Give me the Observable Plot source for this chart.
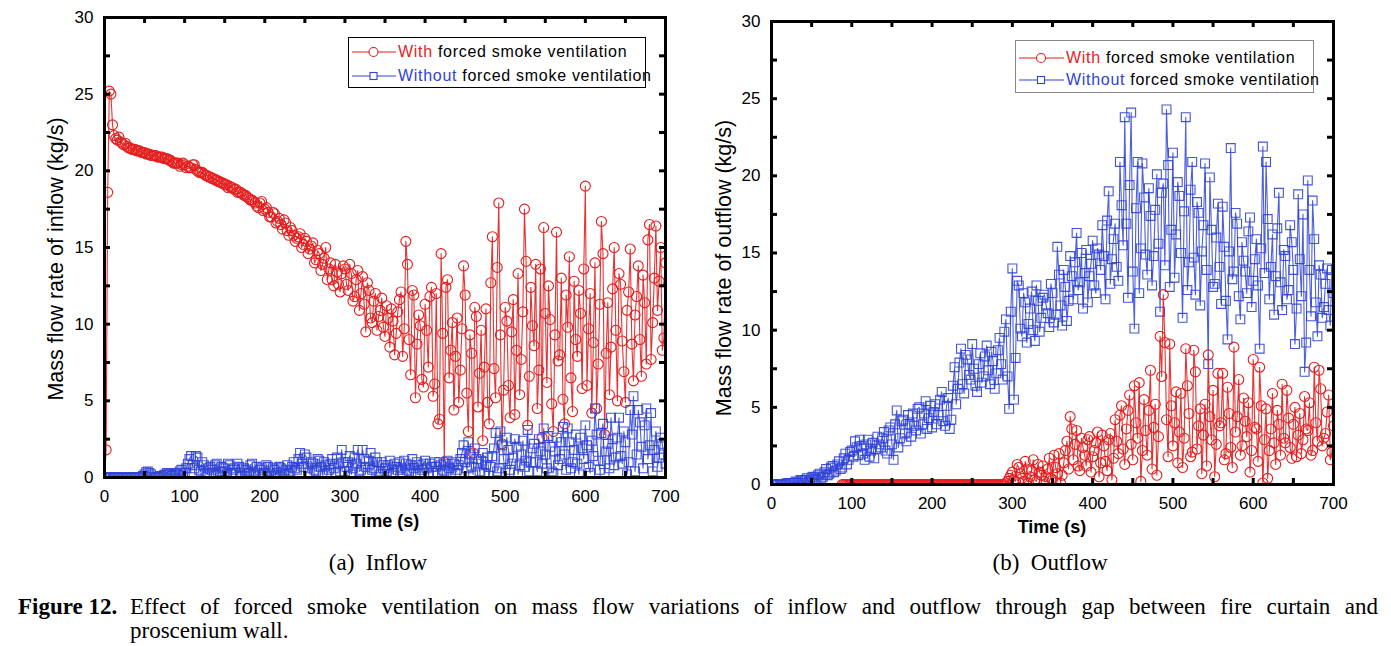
<!DOCTYPE html>
<html>
<head>
<meta charset="utf-8">
<script src="https://cdn.jsdelivr.net/npm/d3@7"></script>
<script src="https://cdn.jsdelivr.net/npm/@observablehq/plot@0.6"></script>
<style>
  body { margin: 0; background: #fff; }
  #root { position: relative; width: 1391px; height: 646px; overflow: hidden; background: #fff;
          font-family: "Liberation Sans", Arial, sans-serif; color: #000; }
  .abs { position: absolute; white-space: nowrap; line-height: 1; }
  .ytitle { font-size: 21.5px; transform: translate(-50%, -50%) rotate(-90deg); }
  .xtitle { font-size: 18px; font-weight: bold; transform: translate(-50%, -50%); }
  .sub { font-family: "Liberation Serif", "Times New Roman", serif; font-size: 23px; transform: translate(-50%, -50%); white-space: pre; }
  .legend { position: absolute; background: #fff; }
  .legrow { position: absolute; left: 0; display: flex; align-items: center; font-size: 16px; letter-spacing: 0.7px; white-space: nowrap; }
  .legrow svg { display: block; margin-right: 2px; }
  .cap { position: absolute; font-family: "Liberation Serif", "Times New Roman", serif; font-size: 23px; line-height: 1; }
</style>
</head>
<body>
<div id="root"></div>
<script>
// ---------------- data ----------------
// Samples every 2 s, stored as two interleaved lists:
// "A" lists at t = 0, 4, 8, ..., 700 s and "B" lists at t = 2, 6, ..., 698 s.
const timesA = d3.range(0, 701, 4);
const timesB = d3.range(2, 700, 4);

// (a) Inflow, with forced smoke ventilation (kg/s)
const inflowWithA = [
  0, 18.6, 25.0, 22.3, 22.0, 21.9, 21.7, 21.6, 21.5, 21.4,
  21.3, 21.3, 21.2, 21.1, 21.1, 21.0, 21.0, 20.9, 20.9, 20.8,
  20.7, 20.6, 20.5, 20.5, 20.4, 20.4, 20.3, 20.2, 20.4, 20.0,
  19.9, 19.8, 19.7, 19.6, 19.5, 19.4, 19.3, 19.2, 19.1, 19.0,
  18.9, 18.8, 18.6, 18.5, 18.4, 18.2, 18.1, 17.9, 17.6, 18.0,
  17.5, 17.3, 17.0, 17.2, 16.7, 16.5, 16.8, 16.1, 16.3, 15.8,
  15.6, 15.9, 15.2, 15.4, 14.9, 15.3, 14.2, 14.6, 13.9, 15.0,
  13.6, 12.9, 13.9, 12.6, 13.3, 13.6, 12.2, 13.3, 11.8, 13.5,
  12.0, 11.3, 12.7, 10.4, 11.5, 9.6, 10.9, 9.8, 11.2, 8.5,
  10.2, 9.4, 11.6, 7.9, 15.4, 9.0, 12.2, 5.2, 10.6, 6.4,
  11.3, 7.2, 12.4, 6.1, 3.5, 14.6, 1.0, 12.9, 8.3, 4.4,
  10.4, 7.0, 13.8, 5.5, 9.3, 1.6, 10.5, 6.8, 2.4, 11.0,
  3.5, 15.7, 5.2, 17.9, 2.2, 11.1, 6.0, 9.5, 4.1, 13.3,
  7.7, 17.5, 3.4, 12.4, 8.6, 4.5, 13.6, 16.3, 6.2, 10.3,
  3.0, 16.0, 8.0, 5.1, 11.9, 14.4, 4.3, 9.0, 12.2, 5.8,
  19.0, 9.7, 4.2, 14.0, 7.4, 16.7, 2.8, 11.4, 8.5, 15.0,
  5.0, 12.6, 6.9, 10.9, 14.9, 6.3, 11.8, 9.0, 13.2, 7.4,
  16.5, 10.1, 16.4, 12.8, 8.3, 14.0
];
const inflowWithB = [
  1.8, 25.2, 23.0, 22.1, 22.2, 21.8, 21.8, 21.5, 21.4, 21.4,
  21.3, 21.2, 21.2, 21.1, 21.0, 21.0, 20.9, 20.9, 20.8, 20.8,
  20.7, 20.5, 20.5, 20.3, 20.5, 20.2, 20.2, 20.4, 20.1, 19.9,
  19.9, 19.7, 19.6, 19.5, 19.4, 19.3, 19.2, 19.1, 18.9, 18.9,
  18.8, 18.6, 18.6, 18.4, 18.3, 18.1, 18.0, 17.7, 17.9, 17.4,
  17.6, 17.0, 17.3, 16.6, 16.9, 16.2, 16.6, 15.8, 16.1, 15.4,
  15.7, 15.0, 15.6, 14.6, 15.1, 14.0, 14.8, 13.5, 14.3, 12.9,
  14.0, 12.5, 13.4, 12.1, 13.8, 12.6, 13.9, 11.5, 12.9, 10.9,
  13.1, 9.5, 12.2, 10.1, 12.0, 10.5, 11.7, 9.2, 10.4, 11.0,
  8.0, 10.8, 12.1, 9.7, 13.9, 6.7, 11.9, 8.7, 9.9, 5.9,
  9.6, 11.8, 5.3, 12.0, 3.8, 9.4, 12.4, 6.5, 10.1, 7.9,
  4.9, 9.7, 11.9, 3.0, 8.1, 11.1, 4.6, 9.6, 7.2, 4.9,
  12.7, 7.1, 13.7, 9.3, 5.7, 10.2, 3.9, 11.6, 8.3, 5.4,
  10.8, 14.1, 6.6, 9.9, 13.9, 7.0, 2.6, 10.7, 12.5, 4.8,
  9.3, 7.6, 13.0, 3.5, 9.8, 6.5, 12.8, 7.9, 10.7, 13.6,
  6.0, 12.0, 8.8, 4.5, 11.3, 14.6, 8.1, 5.4, 12.3, 9.6,
  13.3, 8.9, 4.9, 12.1, 8.7, 10.6, 13.8, 6.6, 11.4, 15.5,
  7.7, 13.0, 10.9, 15.0, 9.1
];

// (a) Inflow, without forced smoke ventilation (kg/s)
const inflowWithoutA = [
  0, 0, 0, 0, 0, 0, 0, 0, 0, 0,
  0, 0, 0.1, 0.35, 0.3, 0.05, 0, 0, 0.05, 0.2,
  0.25, 0.1, 0.3, 0.2, 0.5, 0.3, 0.9, 1.4, 0.6, 1.3,
  0.4, 0.8, 0.2, 0.7, 0.3, 0.9, 0.4, 0.6, 0.2, 0.8,
  0.5, 0.3, 0.7, 0.1, 0.5, 0.3, 0.9, 0.4, 0.2, 0.6,
  0.3, 0.7, 0.1, 0.5, 0.3, 0.6, 0.2, 0.8, 0.4, 1.0,
  0.5, 1.6, 0.7, 1.3, 0.3, 0.9, 0.4, 1.1, 0.2, 0.8,
  0.5, 1.2, 0.3, 0.9, 1.8, 0.4, 1.0, 0.2, 1.3, 1.8,
  0.5, 1.2, 0.3, 1.6, 0.6, 1.0, 0.2, 0.8, 0.4, 1.1,
  0.3, 0.7, 1.0, 0.2, 0.9, 0.4, 1.2, 0.3, 0.8, 0.5,
  1.1, 0.2, 0.7, 1.0, 0.3, 0.8, 0.4, 1.1, 0.2, 0.9,
  0.5, 1.2, 2.1, 0.6, 1.5, 0.2, 1.2, 0.4, 1.6, 0.8,
  0.1, 1.4, 2.9, 0.6, 2.1, 0.3, 1.8, 0.9, 2.5, 0.2,
  1.5, 0.7, 3.1, 1.0, 2.2, 0.4, 1.7, 3.2, 0.6, 2.0,
  0.3, 2.6, 1.2, 3.3, 0.5, 2.3, 1.0, 2.8, 0.2, 1.9,
  3.4, 0.7, 2.4, 4.5, 1.1, 2.9, 0.3, 2.2, 3.9, 0.8,
  2.6, 1.4, 3.0, 0.2, 4.4, 5.3, 1.5, 3.6, 0.6, 4.5,
  2.1, 0.4, 3.0, 1.3, 2.2, 0.9
];
const inflowWithoutB = [
  0, 0, 0, 0, 0, 0, 0, 0, 0, 0,
  0, 0, 0.2, 0.4, 0.2, 0, 0, 0.1, 0.15, 0.3,
  0.2, 0.15, 0.25, 0.4, 0.2, 0.6, 1.2, 0.8, 1.4, 0.5,
  1.0, 0.3, 0.6, 0.5, 0.8, 0.2, 0.7, 0.4, 0.9, 0.3,
  0.6, 0.9, 0.2, 0.6, 0.4, 0.8, 0.2, 0.7, 0.5, 0.3,
  0.8, 0.4, 0.6, 0.2, 0.7, 0.4, 0.5, 0.3, 0.7, 0.6,
  1.2, 0.9, 1.5, 0.6, 1.0, 0.5, 1.2, 0.7, 1.0, 0.3,
  0.9, 0.6, 1.3, 0.4, 1.0, 0.7, 1.4, 0.6, 0.9, 0.4,
  1.8, 0.7, 1.1, 0.5, 1.3, 0.4, 1.0, 0.6, 0.8, 0.2,
  0.9, 0.5, 0.6, 1.1, 0.5, 0.8, 0.6, 1.0, 0.3, 0.9,
  0.6, 0.9, 0.3, 0.7, 1.0, 0.5, 0.9, 0.6, 1.0, 0.3,
  0.8, 1.6, 1.0, 2.3, 0.7, 1.9, 0.9, 1.1, 0.3, 1.3,
  0.7, 1.9, 0.4, 3.0, 1.2, 2.6, 0.5, 1.3, 2.0, 0.8,
  2.4, 1.1, 0.4, 1.9, 1.0, 2.5, 0.9, 1.5, 2.7, 0.4,
  1.7, 0.8, 2.3, 1.5, 3.2, 0.6, 1.8, 0.9, 2.6, 1.2,
  2.1, 0.3, 1.4, 2.8, 0.5, 3.5, 1.7, 0.6, 2.5, 1.3,
  3.9, 0.9, 2.3, 1.0, 2.8, 0.4, 4.4, 2.0, 3.4, 1.2,
  4.2, 1.8, 0.7, 2.6, 1.5
];

// (b) Outflow, with forced smoke ventilation (kg/s); hidden under the other series before ~90 s
const outflowWithA = [
  null, null, null, null, null, null, null, null, null, null,
  null, null, null, null, null, null, null, null, null, null,
  null, null, 0, 0, 0, 0, 0, 0, 0, 0,
  0, 0, 0, 0, 0, 0, 0, 0, 0, 0,
  0, 0, 0, 0, 0, 0, 0, 0, 0, 0,
  0, 0, 0, 0, 0, 0, 0, 0, 0, 0,
  0, 0, 0, 0, 0, 0, 0, 0, 0, 0,
  0, 0, 0, 0.1, 0.4, 0.8, 0.2, 1.1, 0.4, 1.5,
  0.1, 0.9, 0.3, 1.3, 0.6, 0.2, 1.0, 0.4, 1.9, 0.7,
  0.1, 1.4, 2.8, 4.4, 1.6, 3.5, 0.9, 2.4, 1.2, 3.1,
  1.8, 2.7, 0.5, 3.2, 1.5, 2.9, 0.3, 4.2, 2.0, 5.1,
  1.3, 4.8, 2.6, 6.4, 3.0, 0.2, 5.5, 1.9, 7.4, 3.7,
  0.6, 9.6, 12.3, 4.2, 9.1, 2.5, 6.0, 3.4, 1.1, 8.8,
  4.6, 2.1, 7.3, 3.8, 0.7, 5.2, 8.4, 2.9, 0.5, 7.2,
  4.0, 1.6, 6.3, 2.4, 8.9, 4.4, 1.9, 5.6, 3.1, 0.8,
  8.1, 3.6, 7.6, 0.1, 4.9, 2.2, 5.9, 1.3, 3.9, 6.5,
  2.7, 4.3, 1.7, 5.0, 3.2, 2.0, 5.7, 3.5, 1.9, 7.6,
  2.8, 6.2, 3.0, 4.7, 1.6, 3.8
];
const outflowWithB = [
  null, null, null, null, null, null, null, null, null, null,
  null, null, null, null, null, null, null, null, null, null,
  null, null, 0, 0, 0, 0, 0, 0, 0, 0,
  0, 0, 0, 0, 0, 0, 0, 0, 0, 0,
  0, 0, 0, 0, 0, 0, 0, 0, 0, 0,
  0, 0, 0, 0, 0, 0, 0, 0, 0, 0,
  0, 0, 0, 0, 0, 0, 0, 0, 0, 0,
  0, 0, 0, 0.2, 0.6, 0.3, 1.3, 0.7, 0.2, 1.0,
  0.5, 1.6, 0.2, 0.8, 1.2, 0.5, 1.7, 0.3, 1.1, 2.0,
  0.6, 2.2, 1.0, 3.6, 2.6, 1.2, 3.0, 1.9, 2.9, 0.8,
  2.2, 3.4, 1.4, 2.5, 0.9, 3.3, 1.7, 2.8, 4.5, 2.3,
  3.6, 5.8, 1.6, 4.0, 6.6, 2.2, 3.5, 4.8, 1.0, 5.2,
  3.1, 7.0, 9.2, 1.8, 5.1, 4.0, 1.4, 5.9, 3.0, 6.4,
  1.8, 8.7, 2.3, 4.9, 3.2, 1.2, 4.4, 6.1, 2.6, 3.8,
  7.2, 2.0, 4.6, 1.1, 3.4, 6.8, 2.5, 4.1, 5.3, 2.2,
  3.7, 1.5, 5.1, 2.9, 0.4, 3.6, 2.7, 4.8, 1.9, 3.0,
  6.1, 2.4, 3.9, 1.8, 4.6, 2.9, 3.6, 5.3, 2.2, 4.0,
  7.4, 2.5, 3.3, 5.8, 2.1
];

// (b) Outflow, without forced smoke ventilation (kg/s)
const outflowWithoutA = [
  0, 0, 0, 0, 0, 0.1, 0.1, 0.1, 0.15, 0.3,
  0.1, 0.4, 0.2, 0.5, 0.3, 0.7, 0.5, 1.0, 0.7, 1.2,
  0.9, 1.5, 1.1, 2.0, 1.6, 2.2, 2.8, 1.9, 2.5, 1.6,
  2.9, 2.2, 1.7, 3.1, 2.4, 3.4, 2.0, 3.7, 1.6, 4.8,
  3.0, 4.2, 2.8, 3.9, 4.6, 3.5, 5.0, 3.9, 5.4, 4.3,
  3.7, 5.2, 4.5, 6.0, 3.8, 5.6, 4.2, 7.6, 6.2, 8.8,
  5.9, 8.1, 6.8, 7.5, 6.0, 8.5, 7.0, 9.0, 6.5, 8.0,
  7.2, 9.5, 6.8, 10.7, 4.9, 14.0, 8.2, 12.9, 9.6, 11.8,
  10.4, 12.5, 9.3, 11.9, 10.8, 12.3, 11.1, 13.0, 10.5, 15.4,
  11.6, 13.9, 10.6, 14.8, 12.0, 16.3, 13.1, 11.4, 15.2, 13.5,
  15.8, 12.4, 14.9, 16.8, 12.0, 19.0, 14.6, 16.9, 13.2, 18.1,
  23.8, 12.1, 24.1, 10.1, 20.9, 15.3, 18.6, 13.6, 17.4, 14.8,
  20.1, 11.2, 19.5, 24.3, 12.8, 21.5, 16.2, 18.7, 10.8, 23.8,
  14.4, 20.9, 12.3, 17.6, 15.1, 20.8, 7.8, 16.5, 13.0, 18.2,
  11.7, 15.4, 9.4, 21.8, 13.8, 16.9, 10.7, 14.5, 12.4, 17.3,
  13.2, 15.9, 8.8, 21.9, 20.9, 12.0, 16.2, 13.5, 18.9, 11.3,
  14.8, 12.6, 15.7, 9.1, 18.8, 12.2, 7.3, 19.7, 10.9, 15.9,
  9.6, 13.6, 11.5, 14.0, 10.3, 12.4
];
const outflowWithoutB = [
  0, 0, 0, 0, 0.05, 0.1, 0.1, 0.2, 0.1, 0.25,
  0.3, 0.2, 0.45, 0.35, 0.6, 0.4, 0.8, 0.6, 1.1, 0.8,
  1.3, 1.0, 1.7, 1.3, 2.1, 1.8, 2.4, 2.9, 2.0, 2.6,
  1.8, 2.7, 2.3, 2.6, 3.0, 2.2, 3.5, 2.6, 3.9, 2.4,
  4.1, 3.3, 4.5, 3.1, 3.8, 4.9, 3.3, 4.6, 3.6, 5.1,
  4.7, 3.9, 5.5, 4.1, 5.1, 3.6, 6.4, 5.2, 7.9, 6.5,
  8.4, 7.1, 9.1, 6.4, 7.8, 6.6, 8.3, 7.4, 8.6, 6.2,
  8.7, 7.8, 9.9, 7.0, 11.2, 5.5, 13.2, 10.1, 12.4, 9.2,
  11.4, 10.0, 12.9, 9.9, 12.1, 11.6, 10.2, 12.4, 11.0, 13.6,
  10.3, 12.8, 11.9, 13.5, 14.4, 12.6, 15.0, 13.7, 11.8, 14.3,
  12.9, 15.3, 13.9, 14.8, 17.1, 13.0, 15.9, 14.1, 20.9, 15.5,
  16.9, 19.4, 13.8, 17.9, 12.4, 20.8, 14.9, 19.2, 12.9, 17.8,
  15.6, 18.9, 14.2, 20.7, 16.5, 13.4, 19.6, 15.0, 17.7, 12.6,
  19.1, 14.7, 18.3, 11.6, 16.8, 13.9, 19.9, 12.8, 16.0, 14.1,
  18.0, 11.9, 15.1, 13.3, 17.6, 12.2, 15.7, 13.8, 16.4, 11.5,
  14.6, 12.9, 15.3, 13.7, 17.2, 14.1, 11.0, 16.6, 13.1, 15.2,
  12.0, 16.8, 13.9, 11.4, 14.6, 17.5, 9.2, 13.9, 18.4, 11.8,
  14.2, 10.8, 13.0, 11.3, 13.9
];

const xTickLabels = [0, 100, 200, 300, 400, 500, 600, 700];
const yTickLabels = [0, 5, 10, 15, 20, 25, 30];
const xTickMarks = [0, 50, 100, 150, 200, 250, 300, 350, 400, 450, 500, 550, 600, 650, 700];
const yTickMarks = [0, 2.5, 5, 7.5, 10, 12.5, 15, 17.5, 20, 22.5, 25, 27.5, 30];

const seriesNames = ["With", "Without"];
const RED = "#e41d1d";
const BLUE = "#2f43d6";

// ---------------- drawing ----------------
function toRows(a, b) {
  const rows = [];
  a.forEach((v, i) => rows.push({t: timesA[i], v}));
  b.forEach((v, i) => rows.push({t: timesB[i], v}));
  return rows.sort((p, q) => p.t - q.t);
}

function makePanel({width, height, mL, mR, mT, mB, withRows, withoutRows, order}) {
  const W = width - mL - mR, H = height - mT - mB;
  const redMarks = [
    Plot.line(withRows, {x: "t", y: "v", stroke: RED, strokeWidth: 1.1, strokeOpacity: 0.9, clip: true}),
    Plot.dot(withRows, {x: "t", y: "v", r: 5, symbol: "circle", stroke: RED, fill: "none", strokeWidth: 1.1, clip: true})
  ];
  const blueMarks = [
    Plot.line(withoutRows, {x: "t", y: "v", stroke: BLUE, strokeWidth: 1.1, strokeOpacity: 0.85, clip: true}),
    Plot.dot(withoutRows, {x: "t", y: "v", r: 5, symbol: "square", stroke: BLUE, fill: "none", strokeWidth: 1.1, strokeOpacity: 0.9, clip: true})
  ];
  const dataMarks = order === "redFirst" ? [...redMarks, ...blueMarks] : [...blueMarks, ...redMarks];
  return Plot.plot({
    width, height,
    marginLeft: mL, marginRight: mR, marginTop: mT, marginBottom: mB,
    style: {background: "transparent", fontFamily: "'Liberation Sans', Arial, sans-serif", fontSize: "17px", color: "#000", overflow: "visible"},
    x: {domain: [0, 700]},
    y: {domain: [0, 30]},
    marks: [
      ...dataMarks,
      Plot.frame({stroke: "#000", strokeWidth: 3}),
      Plot.tickX(xTickMarks, {x: d => d, insetTop: H - 6, stroke: "#000", strokeWidth: 3}),
      Plot.tickX(xTickMarks, {x: d => d, insetBottom: H - 6, stroke: "#000", strokeWidth: 3}),
      Plot.tickY(yTickMarks, {y: d => d, insetRight: W - 6, stroke: "#000", strokeWidth: 3}),
      Plot.tickY(yTickMarks, {y: d => d, insetLeft: W - 6, stroke: "#000", strokeWidth: 3}),
      Plot.axisX({ticks: xTickLabels, tickSize: 0, tickPadding: 12, fontSize: 17, label: null, tickFormat: d => String(d)}),
      Plot.axisY({ticks: yTickLabels, tickSize: 0, tickPadding: 11, fontSize: 17, label: null, tickFormat: d => String(d)})
    ]
  });
}

const root = document.getElementById("root");

const left = makePanel({width: 690, height: 540, mL: 104, mR: 25, mT: 17, mB: 63,
  withRows: toRows(inflowWithA, inflowWithB), withoutRows: toRows(inflowWithoutA, inflowWithoutB), order: "redFirst"});
left.style.position = "absolute"; left.style.left = "0px"; left.style.top = "0px";
root.appendChild(left);

const right = makePanel({width: 711, height: 540, mL: 91, mR: 58, mT: 21, mB: 56,
  withRows: toRows(outflowWithA, outflowWithB), withoutRows: toRows(outflowWithoutA, outflowWithoutB), order: "blueFirst"});
right.style.position = "absolute"; right.style.left = "680px"; right.style.top = "0px";
root.appendChild(right);

function addText(cls, text, x, y) {
  const d = document.createElement("div");
  d.className = "abs " + cls;
  d.textContent = text;
  d.style.left = x + "px"; d.style.top = y + "px";
  root.appendChild(d);
  return d;
}

addText("ytitle", "Mass flow rate of inflow (kg/s)", 57, 259);
addText("ytitle", "Mass flow rate of outflow (kg/s)", 725, 268);
addText("xtitle", "Time (s)", 385, 521);
addText("xtitle", "Time (s)", 1052, 527);
addText("sub", "(a)  Inflow", 378, 562);
addText("sub", "(b)  Outflow", 1050, 562);

// legends
function addLegend({x, y, w, h, border, rows}) {
  const box = document.createElement("div");
  box.className = "legend";
  Object.assign(box.style, {left: x + "px", top: y + "px", width: w + "px", height: h + "px", border: "1px solid " + border, boxSizing: "border-box"});
  rows.forEach(r => {
    const row = document.createElement("div");
    row.className = "legrow";
    row.style.top = (r.cy - y - 9) + "px";
    row.style.height = "18px";
    row.style.left = "2px";
    const ns = "http://www.w3.org/2000/svg";
    const svg = document.createElementNS(ns, "svg");
    svg.setAttribute("width", r.lw); svg.setAttribute("height", 18);
    const ln = document.createElementNS(ns, "line");
    ln.setAttribute("x1", 1); ln.setAttribute("x2", r.lw); ln.setAttribute("y1", 9); ln.setAttribute("y2", 9);
    ln.setAttribute("stroke", r.color); ln.setAttribute("stroke-width", 1.2);
    svg.appendChild(ln);
    let m;
    if (r.symbol === "circle") {
      m = document.createElementNS(ns, "circle");
      m.setAttribute("cx", r.lw / 2); m.setAttribute("cy", 9); m.setAttribute("r", 4.5);
    } else {
      m = document.createElementNS(ns, "rect");
      m.setAttribute("x", r.lw / 2 - 3.5); m.setAttribute("y", 5.5); m.setAttribute("width", 7); m.setAttribute("height", 7);
    }
    m.setAttribute("fill", "#fff"); m.setAttribute("stroke", r.color); m.setAttribute("stroke-width", 1.1);
    svg.appendChild(m);
    row.appendChild(svg);
    const s1 = document.createElement("span");
    s1.textContent = r.name; s1.style.color = r.color;
    const s2 = document.createElement("span");
    s2.textContent = "\u00a0forced smoke ventilation"; s2.style.color = "#000";
    row.appendChild(s1); row.appendChild(s2);
    box.appendChild(row);
  });
  root.appendChild(box);
}

addLegend({x: 348, y: 37, w: 298, h: 51, border: "#000", rows: [
  {name: seriesNames[0], color: RED, symbol: "circle", cy: 51, lw: 45},
  {name: seriesNames[1], color: BLUE, symbol: "square", cy: 75, lw: 45}
]});
addLegend({x: 1015, y: 40, w: 299, h: 53, border: "#888", rows: [
  {name: seriesNames[0], color: RED, symbol: "circle", cy: 57, lw: 46},
  {name: seriesNames[1], color: BLUE, symbol: "square", cy: 79, lw: 46}
]});

// caption
const cap1 = document.createElement("div");
cap1.className = "cap";
Object.assign(cap1.style, {left: "18px", top: "595px", width: "1360px", display: "flex"});
const capLabel = document.createElement("span");
capLabel.textContent = "Figure 12.";
Object.assign(capLabel.style, {fontWeight: "bold", width: "112px", flex: "none"});
const capText = document.createElement("span");
capText.textContent = "Effect of forced smoke ventilation on mass flow variations of inflow and outflow through gap between fire curtain and";
Object.assign(capText.style, {flex: "1", textAlign: "justify", textAlignLast: "justify"});
cap1.appendChild(capLabel); cap1.appendChild(capText);
root.appendChild(cap1);
const cap2 = document.createElement("div");
cap2.className = "cap";
Object.assign(cap2.style, {left: "130px", top: "619px"});
cap2.textContent = "proscenium wall.";
root.appendChild(cap2);
</script>
</body>
</html>
